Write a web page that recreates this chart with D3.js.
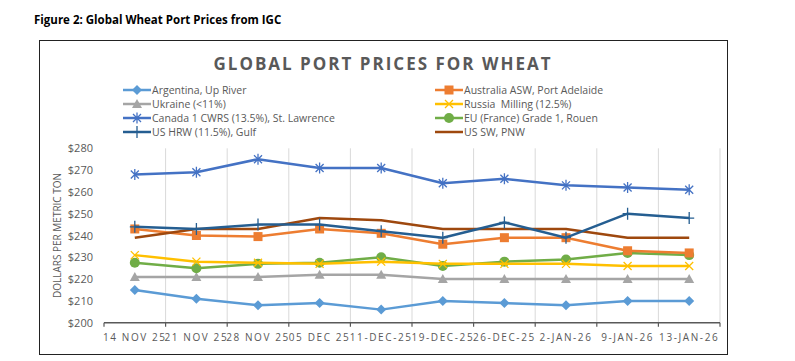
<!DOCTYPE html>
<html>
<head>
<meta charset="utf-8">
<script src="https://cdn.jsdelivr.net/npm/d3@7"></script>
<style>
  body { margin: 0; background: #fff; }
  svg { display: block; }
  text { font-family: "Open Sans", sans-serif; fill: #595959; white-space: pre; }
</style>
</head>
<body>
<svg id="chart" width="795" height="361"></svg>
<script>
var dates = ["14 NOV 25", "21 NOV 25", "28 NOV 25", "05 DEC 25", "11-DEC-25",
             "19-DEC-25", "26-DEC-25", "2-JAN-26", "9-JAN-26", "13-JAN-26"]

var argentina = [215, 211, 208, 209, 206, 210, 209, 208, 210, 210]
var australia = [243, 240, 239.5, 243, 241, 236, 239, 239, 233, 232]
var ukraine   = [221, 221, 221, 222, 222, 220, 220, 220, 220, 220]
var russia    = [231, 228, 227.5, 227, 228, 227, 227, 227, 226, 226]
var canada    = [268, 269, 275, 271, 271, 264, 266, 263, 262, 261]
var eu        = [227.5, 225, 227, 227.5, 230, 226, 228, 229, 232, 231]
var ushrw     = [244, 243, 245, 245, 242, 239, 246, 239, 250, 248]
var ussw      = [239, 243, 243, 248, 247, 243, 243, 243, 239, 239]

var yTicks = [200, 210, 220, 230, 240, 250, 260, 270, 280]

var series = [
  { name: "Argentina, Up River", values: argentina, color: "#5B9BD5", mark: "diamond" },
  { name: "Australia ASW, Port Adelaide", values: australia, color: "#ED7D31", mark: "square" },
  { name: "Ukraine (<11%)", values: ukraine, color: "#A5A5A5", mark: "triangle" },
  { name: "Russia  Milling (12.5%)", values: russia, color: "#FFC000", mark: "x" },
  { name: "Canada 1 CWRS (13.5%), St. Lawrence", values: canada, color: "#4472C4", mark: "star" },
  { name: "EU (France) Grade 1, Rouen", values: eu, color: "#70AD47", mark: "circle" },
  { name: "US HRW (11.5%), Gulf", values: ushrw, color: "#255E91", mark: "plus" },
  { name: "US SW, PNW", values: ussw, color: "#9E480E", mark: "none" }
]

var svg = d3.select("#chart")

svg.append("text")
   .attr("x", 34).attr("y", 24)
   .style("font-size", "11.5px").style("font-weight", "bold").style("fill", "#000")
   .text("Figure 2: Global Wheat Port Prices from IGC")

// frame
svg.append("rect")
   .attr("x", 39.5).attr("y", 40.5).attr("width", 688).attr("height", 314)
   .attr("fill", "none").attr("stroke", "#222").attr("stroke-width", 1)

svg.append("text")
   .attr("x", 383).attr("y", 70)
   .attr("text-anchor", "middle")
   .style("font-size", "17px").style("font-weight", "bold").style("letter-spacing", "2px")
   .text("GLOBAL PORT PRICES FOR WHEAT")

var x = d3.scaleBand().domain(dates).range([104, 720])
var y = d3.scaleLinear().domain([200, 280]).range([322.7, 148.3])

// vertical gridlines at category edges
var edges = dates.map(function (d) { return x(d) }).concat([720])
svg.append("g").selectAll("line").data(edges.slice(1)).enter().append("line")
   .attr("x1", function (d) { return d }).attr("x2", function (d) { return d })
   .attr("y1", y(280)).attr("y2", y(200))
   .attr("stroke", "#D9D9D9").attr("stroke-width", 1)

// y axis labels
svg.append("g").selectAll("text").data(yTicks).enter().append("text")
   .attr("x", 93).attr("y", function (d) { return y(d) + 4 })
   .attr("text-anchor", "end")
   .style("font-size", "11px")
   .text(function (d) { return "$" + d })

svg.append("text")
   .attr("transform", "translate(61," + y(240) + ") rotate(-90)")
   .attr("text-anchor", "middle")
   .style("font-size", "10px")
   .text("DOLLARS PER METRIC TON")

// x axis
var xAxis = svg.append("g").attr("transform", "translate(0," + y(200) + ")")
xAxis.append("line").attr("x1", 104).attr("x2", 720).attr("stroke", "#595959").attr("stroke-width", 1.5)
xAxis.selectAll(".tick").data(edges).enter().append("line")
   .attr("x1", function (d) { return d }).attr("x2", function (d) { return d })
   .attr("y1", 0).attr("y2", 4)
   .attr("stroke", "#595959").attr("stroke-width", 1.2)
xAxis.selectAll(".lbl").data(dates).enter().append("text")
   .attr("x", function (d) { return x(d) + x.bandwidth() / 2 })
   .attr("y", 18)
   .attr("text-anchor", "middle")
   .style("font-size", "10px").style("letter-spacing", "1.6px")
   .text(function (d) { return d })

function drawMark(sel, mark, color) {
  if (mark == "diamond") {
    sel.append("path").attr("d", "M0,-5L5,0L0,5L-5,0Z").attr("fill", color)
  } else if (mark == "square") {
    sel.append("rect").attr("x", -4.5).attr("y", -4.5).attr("width", 9).attr("height", 9).attr("fill", color)
  } else if (mark == "triangle") {
    sel.append("path").attr("d", "M0,-5L5,4L-5,4Z").attr("fill", color)
  } else if (mark == "circle") {
    sel.append("circle").attr("r", 5).attr("fill", color)
  } else if (mark == "x") {
    sel.append("path").attr("d", "M-4,-4L4,4M-4,4L4,-4").attr("stroke", color).attr("stroke-width", 1.3)
  } else if (mark == "star") {
    sel.append("path").attr("d", "M-4,-4L4,4M-4,4L4,-4M0,-5.5L0,5.5").attr("stroke", color).attr("stroke-width", 1.3)
  } else if (mark == "plus") {
    sel.append("path").attr("d", "M0,-6L0,6M-5,0L5,0").attr("stroke", color).attr("stroke-width", 1.3)
  }
}

var line = d3.line()
  .x(function (d, i) { return x(dates[i]) + x.bandwidth() / 2 })
  .y(function (d) { return y(d) })

var drawOrder = [0, 2, 5, 3, 1, 7, 6, 4]
drawOrder.forEach(function (k) {
  var s = series[k]
  var g = svg.append("g")
  g.append("path").datum(s.values)
   .attr("d", line).attr("fill", "none")
   .attr("stroke", s.color).attr("stroke-width", 2.5).attr("stroke-linejoin", "round")
  g.selectAll(".m").data(s.values).enter().append("g")
   .attr("transform", function (d, i) {
     return "translate(" + (x(dates[i]) + x.bandwidth() / 2) + "," + y(d) + ")"
   })
   .each(function () { drawMark(d3.select(this), s.mark, s.color) })
})

// legend, two columns
var legend = svg.append("g")
series.forEach(function (s, i) {
  var lx = (i % 2 == 0) ? 123 : 435
  var ly = 90 + Math.floor(i / 2) * 14
  var item = legend.append("g").attr("transform", "translate(" + lx + "," + ly + ")")
  item.append("line").attr("x1", 0).attr("x2", 28).attr("stroke", s.color).attr("stroke-width", 2.5)
  drawMark(item.append("g").attr("transform", "translate(14,0)"), s.mark, s.color)
  item.append("text").attr("x", 29).attr("y", 4).style("font-size", "10.5px").text(s.name)
})
</script>
</body>
</html>
